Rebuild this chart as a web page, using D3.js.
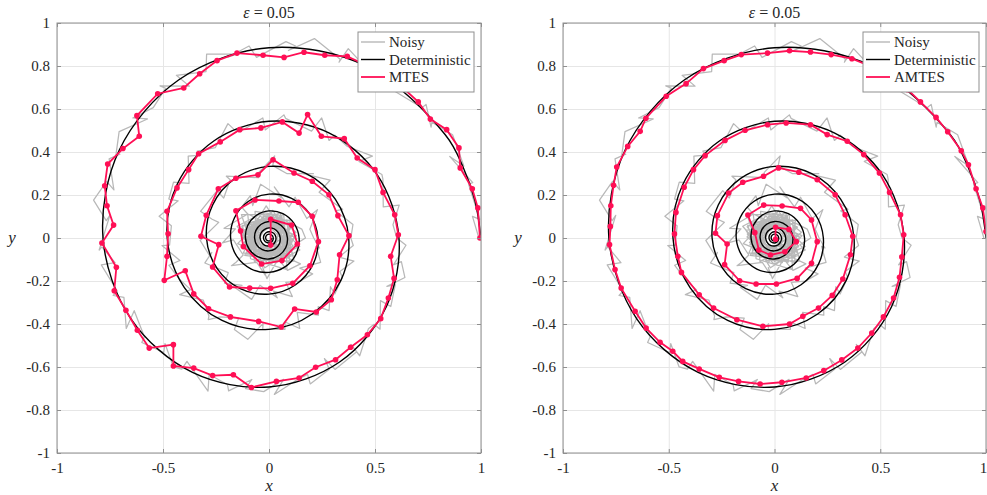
<!DOCTYPE html>
<html>
<head>
<meta charset="utf-8">
<script src="https://cdn.jsdelivr.net/npm/d3@7"></script>
<style>
  body { margin: 0; background: white; }
  #chart { width: 987px; height: 495px; }
  text { font-family: "Liberation Serif", "Times New Roman", serif; fill: #262626; }
</style>
</head>
<body>
<div id="chart"></div>
<script>
// ---- data ----
const xTicks = [-1, -0.5, 0, 0.5, 1];
const yTicks = [-1, -0.8, -0.6, -0.4, -0.2, 0, 0.2, 0.4, 0.6, 0.8, 1];
const seriesNames = ["Noisy", "Deterministic"];
const titleText = "0.05";
const serif = '"Liberation Serif", "Times New Roman", serif';

// deterministic spiral, polar (degrees, radius)
const detTheta = [0,10,20,30,60,90,120,150,180,210,240,270,300,330,360,390,420,450,480,510,540,570,600,630,660,690,720,
  750,780,810,840,870,900,930,960,990,1020,1050,1080,1110,1140,1170,1200,1230,1260,1290,1320,1350,1380,1410,1440,
  1470,1500,1530,1560,1590,1620,1650,1680,1710,1740,1770,1800,1830,1860,1890,1920,1950,1980,2010,2040,2070,2100,
  2130,2160,2190,2220,2250,2280,2310,2340,2370,2400,2430,2460,2490,2520,2550,2580,2610,2640,2670,2700,2730,2760,
  2790,2820,2850,2880,2910,2940,2970,3000,3030,3060,3090,3120,3150,3180,3210,3240];
const detR = [1.000,0.987,0.973,0.960,0.922,0.885,0.850,0.816,0.783,0.752,0.722,0.693,0.666,0.639,0.613,0.589,0.565,0.543,0.521,0.500,0.480,0.461,0.443,0.425,0.408,0.392,0.376,
  0.361,0.347,0.333,0.320,0.307,0.295,0.283,0.272,0.261,0.251,0.241,0.231,0.222,0.213,0.204,0.196,0.188,0.181,0.174,0.167,0.160,0.154,0.148,0.142,
  0.136,0.131,0.126,0.121,0.116,0.111,0.107,0.102,0.098,0.094,0.091,0.087,0.084,0.080,0.077,0.074,0.071,0.068,0.066,0.063,0.060,0.058,
  0.056,0.053,0.051,0.049,0.047,0.045,0.044,0.042,0.040,0.039,0.037,0.036,0.034,0.033,0.032,0.030,0.029,0.028,0.027,0.026,0.025,0.024,
  0.023,0.022,0.021,0.020,0.0194,0.0186,0.0179,0.0172,0.0165,0.0158,0.0152,0.0146,0.0140,0.0134,0.0129,0.0124];

// noisy measurements, polar (degrees, radius)
const noisyTheta = [
  0,6,5,15,15,24,20,29,35,34,40,40,52,51,58,57,67,68,68,77,84,82,85,94,96,103,100,109,111,120,118,126,125,132,139,136,145,152,151,154,
  163,161,168,174,172,184,183,189,189,199,200,202,212,208,218,219,227,225,233,236,236,248,246,254,255,263,261,268,276,272,281,286,286,
  295,295,297,308,308,308,318,321,321,331,331,340,338,344,350,348,357,360,
  366,374,375,387,389,400,398,409,417,418,426,428,442,443,452,453,465,468,470,481,490,490,495,506,510,519,518,529,533,544,544,554,555,
  564,573,572,583,592,593,598,609,609,618,626,626,640,641,649,651,663,666,670,682,680,692,695,705,705,715,720,
  729,742,741,762,763,782,775,794,807,806,819,820,845,844,859,858,879,882,883,902,917,914,921,940,945,960,955,974,979,998,995,1012,
  1011,1026,1041,1036,1055,1070,1069,1080,
  1092,1110,1107,1137,1137,1164,1152,1179,1197,1194,1212,1212,1248,1245,1266,1263,1293,1296,1296,1323,1344,1338,1347,1374,1380,1401,
  1392,1419,1425,1440,
  15,78,140,205,262,330,28,95,170,228,300,352,60,118,185,250,318,10,82,150,215,280,345,40,105,160,235,295,5,70,
  132,198,268,325,50,112,178,240,310,20,88,155,222,288,350,65,125,190,258,320,35,98,165,232,302,12,75,145,210,275,
  338,45,110,172,245,308,25,90,158,220,285,355,58,122,188,255,315,8,80,148,212,278,342,38,102,168,238,298,18,85,
  152,218,290,348,62,128,195,262,325,30,92,162,230,305,2,72,138,202,272,335,48,115,182,248,312,22,86,156,225,292,
  358,66,130,196,265,330,42,108,175,242,306,14,80,146,214,282,344,52,118,186,
  200,265,320,25,95,150,215,285,340,50,115,175,235,300,5,70,130,190,255,315,15,85,145,205,270,330,40,100,165,225,
  290,350,60,120,180,245,305,10,75,140,195,260,325,35,95,155,220,280,345,55,110,170,240,300,20,80,135,200,265,330];
const noisyR = [
  0.990,0.965,0.998,0.974,0.995,0.933,0.978,0.990,0.938,0.922,0.967,0.942,0.897,0.962,0.937,0.902,0.957,0.882,0.897,0.952,
  0.877,0.902,0.917,0.842,0.898,0.863,0.868,0.904,0.829,0.874,0.800,0.875,0.850,0.816,0.851,0.797,0.863,0.818,0.804,0.839,
  0.765,0.810,0.846,0.772,0.758,0.803,0.789,0.735,0.801,0.757,0.782,0.738,0.794,0.720,0.746,0.772,0.728,0.694,0.750,0.736,
  0.692,0.768,0.694,0.710,0.736,0.663,0.709,0.715,0.661,0.728,0.674,0.660,0.706,0.673,0.619,0.686,0.672,0.628,0.695,0.631,
  0.638,0.674,0.601,0.657,0.634,0.600,0.667,0.634,0.600,0.647,0.603,
  0.588,0.633,0.558,0.603,0.609,0.554,0.619,0.564,0.570,0.535,0.611,0.536,0.562,0.577,0.503,0.559,0.514,0.530,0.566,0.491,
  0.527,0.503,0.539,0.455,0.520,0.506,0.462,0.528,0.464,0.470,0.506,0.433,0.489,0.465,0.441,0.497,0.424,0.460,0.476,0.433,
  0.399,0.456,0.482,0.399,0.425,0.432,0.398,0.445,0.371,0.428,0.395,0.441,0.368,0.405,0.392,0.369,0.415,0.342,0.399,0.386,
  0.401,0.337,0.372,0.318,0.394,0.339,0.365,0.311,0.337,0.383,0.309,0.285,0.351,0.327,0.283,0.329,0.346,0.282,0.248,0.325,
  0.291,0.278,0.324,0.251,0.297,0.254,0.281,0.297,0.224,0.281,0.248,0.294,0.221,0.248,0.265,0.202,0.269,0.226,0.243,0.211,
  0.197,0.264,0.200,0.226,0.173,0.239,0.196,0.253,0.169,0.216,0.193,0.150,0.217,0.164,0.221,0.168,0.145,0.192,0.219,0.127,
  0.174,0.141,0.189,0.106,0.174,0.191,0.119,0.156,0.124,0.172,
  0.16,0.11,0.17,0.09,0.14,0.12,0.07,0.15,0.10,0.13,0.17,0.08,0.12,0.14,0.06,0.11,0.16,0.09,0.13,0.05,
  0.14,0.10,0.15,0.07,0.12,0.16,0.08,0.11,0.13,0.06,0.15,0.09,0.12,0.14,0.05,0.11,0.13,0.08,0.15,0.10,
  0.07,0.14,0.11,0.12,0.06,0.13,0.09,0.15,0.08,0.11,0.12,0.05,0.14,0.10,0.07,0.13,0.11,0.08,0.14,0.06,
  0.10,0.12,0.07,0.13,0.09,0.04,0.12,0.10,0.14,0.07,0.11,0.08,0.13,0.06,0.10,0.12,0.05,0.11,0.09,0.13,
  0.07,0.10,0.12,0.05,0.11,0.08,0.13,0.06,0.10,0.09,0.12,0.04,0.09,0.11,0.07,0.10,0.12,0.05,0.09,0.08,
  0.11,0.06,0.10,0.08,0.12,0.05,0.09,0.11,0.07,0.10,0.04,0.09,0.11,0.07,0.10,0.06,0.08,0.11,0.05,0.09,
  0.08,0.10,0.06,0.09,0.04,0.08,0.10,0.07,0.09,0.05,0.08,0.06,0.09,0.05,0.07,0.08,0.04,0.07,0.06,0.05,
  0.12,0.08,0.13,0.06,0.11,0.10,0.13,0.07,0.12,0.09,0.05,0.12,0.10,0.13,0.08,0.11,0.06,0.12,0.09,0.13,
  0.07,0.10,0.12,0.05,0.11,0.09,0.13,0.07,0.10,0.12,0.06,0.11,0.09,0.04,0.12,0.08,0.10,0.07,0.11,0.09,
  0.05,0.10,0.08,0.12,0.06,0.09,0.11,0.04,0.08,0.10,0.07,0.09,0.05,0.08,0.06,0.07,0.04,0.06,0.05,0.03];

// MTES estimates (left panel)
const mtesX = [0.995,0.985,0.959,0.902,0.896,0.838,0.761,0.704,0.630,0.545,0.455,0.369,0.263,0.165,0.071,-0.028,-0.151,-0.245,-0.327,-0.402,
  -0.525,-0.623,-0.612,-0.689,-0.761,-0.775,-0.764,-0.733,-0.788,-0.720,-0.730,-0.675,-0.621,-0.565,-0.451,-0.451,-0.355,-0.266,-0.168,-0.083,
  0.035,0.142,0.220,0.314,0.385,0.464,0.527,0.563,0.590,0.574,0.610,0.593,0.538,0.500,0.416,0.355,0.247,0.182,0.142,0.063,
  -0.038,-0.138,-0.230,-0.332,-0.379,-0.434,-0.481,-0.476,-0.481,-0.494,-0.395,-0.355,-0.285,-0.182,-0.049,0.058,0.121,0.223,0.294,0.322,
  0.333,0.377,0.325,0.283,0.204,0.118,0.019,-0.052,-0.156,-0.239,-0.296,-0.321,-0.237,-0.266,-0.186,-0.091,0.008,0.112,0.193,0.233,
  0.204,0.138,0.047,-0.066,-0.156,-0.134,-0.121,-0.035,0.061,0.134,0.107,0.008,0.008];
const mtesY = [0.000,0.140,0.229,0.326,0.419,0.504,0.553,0.633,0.700,0.760,0.805,0.845,0.850,0.864,0.840,0.850,0.860,0.825,0.764,0.698,
  0.671,0.569,0.473,0.416,0.344,0.243,0.150,0.060,-0.023,-0.136,-0.245,-0.336,-0.429,-0.512,-0.496,-0.595,-0.605,-0.640,-0.636,-0.695,
  -0.667,-0.651,-0.601,-0.566,-0.508,-0.450,-0.375,-0.279,-0.188,-0.085,0.015,0.108,0.212,0.318,0.372,0.462,0.473,0.574,0.488,0.540,
  0.512,0.504,0.447,0.392,0.318,0.233,0.124,0.020,-0.085,-0.197,-0.152,-0.260,-0.329,-0.367,-0.388,-0.414,-0.330,-0.344,-0.287,-0.194,
  -0.078,0.011,0.104,0.201,0.264,0.302,0.364,0.294,0.278,0.229,0.106,0.008,-0.031,-0.135,-0.228,-0.233,-0.234,-0.211,-0.129,-0.017,
  0.101,0.166,0.172,0.177,0.127,0.033,-0.040,-0.121,-0.105,-0.028,0.060,0.087,-0.033];

// AMTES estimates (right panel)
const amtesX = [1.000,0.985,0.953,0.917,0.883,0.819,0.764,0.690,0.630,0.555,0.465,0.366,0.268,0.170,0.071,-0.033,-0.157,-0.238,-0.336,-0.418,
  -0.512,-0.608,-0.635,-0.694,-0.746,-0.761,-0.774,-0.776,-0.780,-0.754,-0.725,-0.659,-0.607,-0.541,-0.481,-0.434,-0.356,-0.261,-0.170,-0.068,
  0.035,0.150,0.233,0.318,0.394,0.460,0.515,0.563,0.591,0.602,0.611,0.596,0.544,0.496,0.422,0.344,0.249,0.170,0.055,-0.033,
  -0.139,-0.234,-0.328,-0.383,-0.427,-0.466,-0.473,-0.457,-0.440,-0.356,-0.288,-0.178,-0.055,0.071,0.134,0.208,0.273,0.323,0.359,0.370,
  0.334,0.287,0.202,0.115,0.019,-0.052,-0.150,-0.217,-0.270,-0.279,-0.224,-0.236,-0.165,-0.087,0.009,0.107,0.175,0.202,0.175,0.123,
  0.036,-0.051,-0.126,-0.093,-0.074,-0.019,0.049,0.103,0.068,0.005,0.005];
const amtesY = [0.030,0.140,0.229,0.341,0.406,0.494,0.561,0.633,0.690,0.745,0.795,0.834,0.853,0.865,0.871,0.860,0.853,0.825,0.788,0.718,
  0.659,0.557,0.496,0.426,0.330,0.245,0.150,0.054,-0.031,-0.147,-0.233,-0.341,-0.419,-0.485,-0.527,-0.574,-0.609,-0.648,-0.667,-0.679,
  -0.671,-0.651,-0.617,-0.567,-0.512,-0.442,-0.367,-0.279,-0.183,-0.088,0.015,0.108,0.212,0.302,0.388,0.450,0.481,0.527,0.535,0.527,
  0.501,0.454,0.383,0.318,0.236,0.119,0.019,-0.085,-0.160,-0.264,-0.326,-0.380,-0.411,-0.400,-0.364,-0.326,-0.267,-0.191,-0.078,0.008,
  0.108,0.201,0.271,0.306,0.326,0.287,0.259,0.209,0.104,0.022,-0.028,-0.124,-0.199,-0.214,-0.214,-0.188,-0.118,-0.017,0.084,0.138,
  0.149,0.153,0.107,0.025,-0.056,-0.079,-0.064,-0.017,0.040,0.050,-0.006];

// polar -> cartesian pairs
function polar(theta, r) {
    return theta.map(function (t, i) {
        let a = t * Math.PI / 180;
        return [r[i] * Math.cos(a), r[i] * Math.sin(a)];
    });
}
const detPts = polar(detTheta, detR);
const noisyPts = polar(noisyTheta, noisyR);

const svg = d3.select("#chart").append("svg")
    .attr("width", 987)
    .attr("height", 495)
    .style("background-color", "white");

class SpiralPanel {
    constructor(id, left, right, estX, estY, estName) {
        this.id = id;
        this.top = 23;
        this.bottom = 453;
        this.left = left;
        this.right = right;
        this.est = estX.map(function (x, i) { return [x, estY[i]]; });
        this.estName = estName;

        this.x = d3.scaleLinear().domain([-1, 1]).range([left, right]);
        this.y = d3.scaleLinear().domain([-1, 1]).range([this.bottom, this.top]);

        this.g = svg.append("g").attr("class", "panel_" + id);
        this.render();
    }

    render() {
        this.renderGrid();
        this.renderLines();
        this.renderAxes();
        this.renderLegend();
        this.renderLabels();
    }

    renderGrid() {
        let h = this.bottom - this.top, w = this.right - this.left;
        let gx = this.g.append("g")
            .attr("transform", "translate(0," + this.bottom + ")")
            .call(d3.axisBottom(this.x).tickValues(xTicks).tickSize(-h).tickFormat(""));
        let gy = this.g.append("g")
            .attr("transform", "translate(" + this.left + ",0)")
            .call(d3.axisLeft(this.y).tickValues(yTicks).tickSize(-w).tickFormat(""));
        [gx, gy].forEach(function (a) {
            a.select(".domain").remove();
            a.selectAll("line").attr("stroke", "#e6e6e6").attr("stroke-width", 1);
        });
    }

    renderLines() {
        let that = this;
        this.g.append("clipPath").attr("id", "clip_" + this.id)
            .append("rect")
            .attr("x", this.left).attr("y", this.top)
            .attr("width", this.right - this.left).attr("height", this.bottom - this.top);

        let plot = this.g.append("g").attr("clip-path", "url(#clip_" + this.id + ")");
        let line = d3.line()
            .x(function (d) { return that.x(d[0]); })
            .y(function (d) { return that.y(d[1]); });

        plot.append("path")
            .attr("d", line(noisyPts))
            .attr("fill", "none")
            .attr("stroke", "#b8b8b8")
            .attr("stroke-width", 1.25)
            .attr("stroke-linejoin", "round");

        plot.append("path")
            .attr("d", line.curve(d3.curveCatmullRom)(detPts))
            .attr("fill", "none")
            .attr("stroke", "#000")
            .attr("stroke-width", 1.4);

        line.curve(d3.curveLinear);
        plot.append("path")
            .attr("d", line(this.est))
            .attr("fill", "none")
            .attr("stroke", "#ff0f55")
            .attr("stroke-width", 1.8);

        plot.selectAll("circle")
            .data(this.est)
            .enter()
            .append("circle")
            .attr("cx", function (d) { return that.x(d[0]); })
            .attr("cy", function (d) { return that.y(d[1]); })
            .attr("r", 2.8)
            .attr("fill", "#ff0f55");
    }

    renderAxes() {
        let fmt = function (d) { return String(d); };
        let axes = [
            { ax: d3.axisBottom(this.x).tickValues(xTicks).tickFormat(fmt).tickPadding(9), t: "translate(0," + this.bottom + ")" },
            { ax: d3.axisTop(this.x).tickValues(xTicks).tickFormat(""), t: "translate(0," + this.top + ")" },
            { ax: d3.axisLeft(this.y).tickValues(yTicks).tickFormat(fmt).tickPadding(7), t: "translate(" + this.left + ",0)" },
            { ax: d3.axisRight(this.y).tickValues(yTicks).tickFormat(""), t: "translate(" + this.right + ",0)" }
        ];
        for (let i = 0; i < axes.length; i++) {
            let a = this.g.append("g")
                .attr("transform", axes[i].t)
                .call(axes[i].ax.tickSizeInner(-4).tickSizeOuter(0))
                .attr("font-family", serif)
                .attr("font-size", 15);
            a.select(".domain").remove();
            a.selectAll("line").attr("stroke", "#8f8f8f");
            a.selectAll("text")
                .style("font-family", serif)
                .style("font-size", "15px")
                .attr("fill", "#262626");
        }
        // keep the last x label inside the page
        if (this.right > 980) {
            this.g.selectAll("text").filter(function (d) { return d === 1 && d3.select(this).attr("dy") === "0.71em"; })
                .attr("dx", -3);
        }
        this.g.append("rect")
            .attr("x", this.left).attr("y", this.top)
            .attr("width", this.right - this.left).attr("height", this.bottom - this.top)
            .attr("fill", "none")
            .attr("stroke", "#8f8f8f")
            .attr("stroke-width", 1);
    }

    renderLegend() {
        let names = seriesNames.concat([this.estName]);
        let colors = ["#b8b8b8", "#000", "#ff0f55"];
        let lx = this.right - 123, ly = 32;
        let lg = this.g.append("g").attr("class", "legend");
        lg.append("rect")
            .attr("x", lx).attr("y", ly)
            .attr("width", 116).attr("height", 60)
            .attr("fill", "white")
            .attr("stroke", "#8f8f8f");
        lg.selectAll(".item")
            .data(names)
            .enter()
            .append("g")
            .attr("class", "item")
            .each(function (d, i) {
                let yy = ly + 10 + i * 17.5;
                d3.select(this).append("line")
                    .attr("x1", lx + 3).attr("x2", lx + 27)
                    .attr("y1", yy).attr("y2", yy)
                    .attr("stroke", colors[i])
                    .attr("stroke-width", i == 2 ? 1.8 : 1.4);
                d3.select(this).append("text")
                    .attr("x", lx + 31).attr("y", yy)
                    .attr("dy", "0.35em")
                    .style("font-family", serif)
                    .style("font-size", "15px")
                    .text(d);
            });
    }

    renderLabels() {
        let cx = (this.left + this.right) / 2;
        let title = this.g.append("text")
            .attr("x", cx).attr("y", 18)
            .attr("text-anchor", "middle")
            .style("font-family", serif)
            .style("font-size", "16px");
        title.append("tspan").style("font-style", "italic").text("ε");
        title.append("tspan").text(" = " + titleText);

        this.g.append("text")
            .attr("x", cx).attr("y", 491)
            .attr("text-anchor", "middle")
            .style("font-family", serif)
            .style("font-size", "17px")
            .style("font-style", "italic")
            .text("x");

        this.g.append("text")
            .attr("x", this.left - 45).attr("y", 238)
            .attr("dy", "0.3em")
            .attr("text-anchor", "middle")
            .style("font-family", serif)
            .style("font-size", "17px")
            .style("font-style", "italic")
            .text("y");
    }
}

new SpiralPanel("left", 57, 481, mtesX, mtesY, "MTES");
new SpiralPanel("right", 563, 986, amtesX, amtesY, "AMTES");
</script>
</body>
</html>
